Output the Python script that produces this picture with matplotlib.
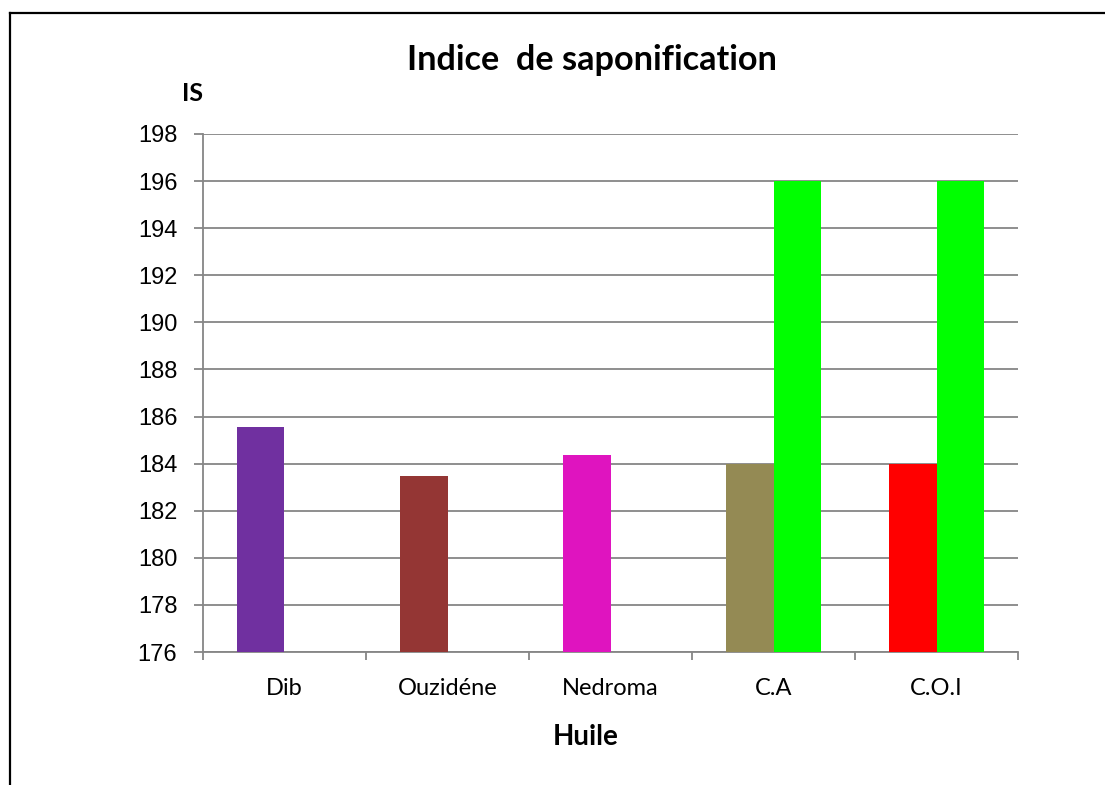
import numpy as np
import matplotlib
matplotlib.use("Agg")
import matplotlib.pyplot as plt
from matplotlib.lines import Line2D

# Data
categories = ["Dib", "Ouzidéne", "Nedroma", "C.A", "C.O.I"]
serie_1 = [185.55, 183.47, 184.37, 184.0, 184.0]
serie_2 = [np.nan, np.nan, np.nan, 196.0, 196.0]
colors_1 = ["#7030A0", "#943634", "#DF14BF", "#948A54", "#FF0000"]
color_2 = "#00FF00"
y_ticks = list(range(176, 199, 2))

fig = plt.figure(figsize=(11.05, 7.85), dpi=100)
ax = fig.add_axes([0.1837, 0.1694, 0.7376, 0.6599])

x = np.arange(len(categories))
width = 0.29
ax.bar(x - width / 2, serie_1, width, color=colors_1, zorder=3)
ax.bar(x + width / 2, serie_2, width, color=color_2, zorder=3)

ax.set_ylim(176, 198)
ax.set_xlim(-0.5, len(categories) - 0.5)
ax.set_yticks(y_ticks)
ax.set_yticklabels([str(t) for t in y_ticks], fontsize=17, family="Liberation Sans")
ax.grid(axis="y", color="#868686", lw=1.3, zorder=0)

# category labels between boundary ticks
ax.set_xticks(x)
ax.set_xticklabels(categories, fontsize=17, family="Lato")
ax.tick_params(axis="x", which="major", length=0, pad=19)
ax.set_xticks(np.arange(-0.5, len(categories)), minor=True)
ax.tick_params(axis="x", which="minor", length=6, width=1.3, color="#868686")
ax.tick_params(axis="y", length=6.5, width=1.3, color="#868686", pad=12)

for side in ["top", "right"]:
    ax.spines[side].set_visible(False)
for side in ["left", "bottom"]:
    ax.spines[side].set_color("#868686")
    ax.spines[side].set_linewidth(1.3)

fig.text(0.5357, 0.923, "Indice  de saponification", ha="center", va="center",
         fontsize=24.7, fontweight="bold", family="Lato")
fig.text(0.174, 0.881, "IS", ha="center", va="center",
         fontsize=18, fontweight="bold", family="Lato")
fig.text(0.530, 0.061, "Huile", ha="center", va="center",
         fontsize=20, fontweight="bold", family="Lato")

# partial frame around the figure (left and top edges)
fig.add_artist(Line2D([10 / 1105, 10 / 1105], [0, 1 - 13 / 785], color="black", lw=1.6))
fig.add_artist(Line2D([10 / 1105, 1], [1 - 13 / 785, 1 - 13 / 785], color="black", lw=1.6))

fig.savefig("out.png", dpi=100)
